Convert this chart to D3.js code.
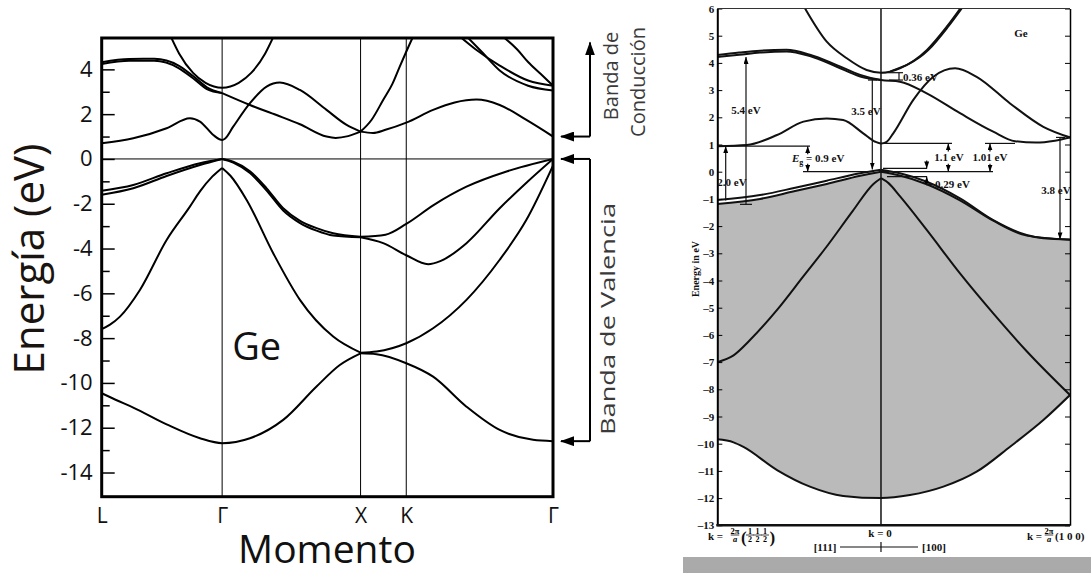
<!DOCTYPE html>
<html lang="es">
<head>
<meta charset="utf-8">
<title>Estructura de bandas del Ge</title>
<script src="https://cdn.jsdelivr.net/npm/d3@7"></script>
<style>
  body { margin: 0; background: #fff; }
  svg { display: block; }
  .sans { font-family: "Open Sans", "DejaVu Sans", sans-serif; }
  .serif { font-family: "Liberation Serif", "DejaVu Serif", serif; font-weight: bold; }
</style>
</head>
<body>
<script>
// ---------- left chart data (k in path units, E in eV) ----------
var kLabels = ["L", "Γ", "X", "K", "Γ"];
var kPoints = [0, 0.87, 1.87, 2.2, 3.26];
var eTicks = [4, 2, 0, -2, -4, -6, -8, -10, -12, -14];
var eMinor = [3, 1, -1, -3, -5, -7, -9, -11, -13];

// conduction bands
var condLowLX = [[0,0.70],[0.228,0.92],[0.469,1.37],[0.637,1.82],[0.71,1.67],[0.806,1.07],[0.85,0.88],[0.87,0.85],[0.89,0.9],[0.95,1.44],[1.071,2.49],[1.191,3.23],[1.287,3.41],[1.432,3.08],[1.624,2.19],[1.769,1.52],[1.87,1.22]];
var condSteepXK = [[1.87,1.22],[1.95,1.75],[2.033,2.63],[2.1,3.35],[2.153,4.12],[2.238,5.31],[2.26,5.6]];
var condGX = [[0.87,2.94],[1.071,2.41],[1.263,1.96],[1.432,1.55],[1.624,1.0],[1.69,0.94],[1.78,1.02],[1.87,1.22]];
var condXG = [[1.87,1.22],[1.96,1.16],[2.05,1.3],[2.2,1.62],[2.394,2.19],[2.55,2.52],[2.707,2.65],[2.875,2.41],[3.068,1.74],[3.26,1.0]];
var condParabola = [[0.50,5.45],[0.56,4.7],[0.66,3.84],[0.75,3.4],[0.87,3.18],[0.99,3.4],[1.08,3.84],[1.18,4.7],[1.24,5.45]];
var condLGa = [[0,4.32],[0.2,4.46],[0.38,4.47],[0.555,4.17],[0.66,3.7],[0.76,3.2],[0.87,2.94]];
var condLGb = [[0,4.24],[0.2,4.38],[0.38,4.38],[0.555,4.06],[0.66,3.6],[0.76,3.12],[0.87,2.94]];
var condKGa = [[2.59,5.45],[2.7,4.9],[2.875,4.17],[3.08,3.5],[3.26,3.27]];
var condKGb = [[2.64,5.45],[2.75,4.75],[2.875,3.95],[3.08,3.27],[3.26,3.06]];
var condKGc = [[2.9,5.45],[3.0,4.9],[3.08,4.33],[3.17,3.8],[3.26,3.27]];

// valence bands
var valHHa_LG = [[0,-1.42],[0.228,-1.16],[0.469,-0.64],[0.71,-0.19],[0.87,0]];
var valHHb_LG = [[0,-1.6],[0.228,-1.31],[0.469,-0.76],[0.71,-0.27],[0.87,0]];
var valHHa_GX = [[0.87,0],[0.95,-0.12],[1.071,-0.55],[1.19,-1.3],[1.311,-2.2],[1.43,-2.75],[1.552,-3.09],[1.672,-3.32],[1.87,-3.47]];
var valHHb_GX = [[0.87,0],[0.95,-0.16],[1.071,-0.63],[1.19,-1.4],[1.311,-2.3],[1.43,-2.85],[1.552,-3.2],[1.672,-3.42],[1.87,-3.5]];
var valUpXG = [[1.87,-3.47],[2.05,-3.38],[2.2,-2.9],[2.4,-2.05],[2.635,-1.24],[2.93,-0.55],[3.26,0]];
var valDipXG = [[1.87,-3.5],[2.033,-3.76],[2.2,-4.3],[2.358,-4.7],[2.45,-4.55],[2.635,-3.76],[2.875,-2.2],[3.07,-1.05],[3.26,0]];
var valLightLG = [[0,-7.6],[0.06,-7.4],[0.132,-7.04],[0.276,-5.85],[0.469,-3.62],[0.637,-2.13],[0.71,-1.45],[0.8,-0.78],[0.87,-0.4]];
var valLightGX = [[0.87,-0.4],[0.93,-0.75],[1.047,-1.83],[1.239,-4.21],[1.432,-6.29],[1.672,-7.93],[1.87,-8.65]];
var valLightXG = [[1.87,-8.65],[1.985,-8.6],[2.2,-8.23],[2.394,-7.56],[2.635,-6.29],[2.875,-4.5],[3.068,-2.72],[3.26,-0.3]];
var valLowLX = [[0,-10.46],[0.1,-10.75],[0.228,-11.1],[0.469,-11.85],[0.71,-12.47],[0.87,-12.69],[1.071,-12.47],[1.311,-11.65],[1.552,-10.16],[1.72,-9.2],[1.87,-8.68]];
var valLowXG = [[1.87,-8.68],[1.985,-8.72],[2.2,-9.12],[2.394,-9.72],[2.635,-11.06],[2.875,-12.1],[3.116,-12.54],[3.26,-12.6]];

var leftBands = [condLowLX, condSteepXK, condGX, condXG, condParabola, condLGa, condLGb, condKGa, condKGb, condKGc,
                 valHHa_LG, valHHb_LG, valHHa_GX, valHHb_GX, valUpXG, valDipXG, valLightLG, valLightGX, valLightXG, valLowLX, valLowXG];

// ---------- right chart data (k: L=-0.866, Γ=0, X=1) ----------
var rTicks = d3.range(-13, 7);
var rParabola = [[-0.41,6.1],[-0.287,4.78],[-0.181,4.17],[-0.076,3.74],[0,3.64],[0.1,3.8],[0.242,4.47],[0.348,5.33],[0.43,6.1]];
var rParabolaArm = [[0.05,3.69],[0.25,4.47],[0.355,5.33],[0.437,6.1]];
var rUpperA = [[-0.866,4.29],[-0.75,4.38],[-0.64,4.45],[-0.5,4.48],[-0.376,4.3],[-0.234,3.92],[-0.11,3.56],[0,3.37],[0.1,3.31],[0.242,2.88],[0.418,2.15],[0.594,1.47],[0.709,1.12],[0.82,1.07],[0.92,1.14],[1,1.26]];
var rUpperB = [[-0.866,4.22],[-0.75,4.3],[-0.64,4.38],[-0.5,4.42],[-0.376,4.25],[-0.234,3.86],[-0.11,3.5],[0,3.37]];
var rCond = [[-0.866,0.94],[-0.71,0.98],[-0.55,1.35],[-0.41,1.84],[-0.287,1.96],[-0.2,1.9],[-0.094,1.41],[-0.03,1.1],[0,1.04],[0.03,1.1],[0.065,1.41],[0.171,2.64],[0.277,3.49],[0.392,3.8],[0.506,3.49],[0.683,2.51],[0.859,1.65],[1,1.26]];
var rValA_L = [[-0.866,-1.04],[-0.64,-0.86],[-0.46,-0.6],[-0.287,-0.33],[-0.11,-0.06],[0,0.07]];
var rValA_R = [[0,0.07],[0.1,-0.06],[0.242,-0.37],[0.418,-0.98],[0.594,-1.78],[0.771,-2.33],[0.859,-2.45],[1,-2.49]];
var rValB_L = [[-0.866,-1.19],[-0.64,-1.0],[-0.46,-0.72],[-0.287,-0.45],[-0.11,-0.15],[0,0.0]];
var rValB_R = [[0,0.0],[0.1,-0.14],[0.242,-0.46],[0.418,-1.05],[0.594,-1.8],[0.771,-2.35],[1,-2.5]];
var rSplit_L = [[-0.866,-7.0],[-0.78,-6.75],[-0.693,-6.19],[-0.552,-5.1],[-0.411,-3.85],[-0.287,-2.75],[-0.15,-1.45],[-0.04,-0.45],[0,-0.24]];
var rSplit_R = [[0,-0.24],[0.04,-0.42],[0.1,-0.9],[0.242,-2.14],[0.418,-3.74],[0.594,-5.21],[0.771,-6.6],[1,-8.21]];
var rBottom = [[-0.866,-9.84],[-0.78,-9.95],[-0.73,-10.11],[-0.55,-10.97],[-0.376,-11.58],[-0.2,-11.92],[0,-12.0],[0.153,-11.89],[0.33,-11.58],[0.506,-11.03],[0.683,-10.11],[0.859,-9.13],[1,-8.21]];

var rightBands = [rParabola, rUpperA, rUpperB, rCond, rValA_L, rValA_R, rValB_L, rValB_R, rSplit_L, rSplit_R, rBottom];

var svg = d3.select("body").append("svg")
    .attr("width", 1091)
    .attr("height", 573);

var defs = svg.append("defs");
defs.append("marker").attr("id", "headBig")
    .attr("viewBox", "0 0 14 10").attr("refX", 13).attr("refY", 5)
    .attr("markerWidth", 14).attr("markerHeight", 10)
    .attr("markerUnits", "userSpaceOnUse").attr("orient", "auto")
  .append("path").attr("d", "M0,0L14,5L0,10z").attr("fill", "#000");
defs.append("marker").attr("id", "headSmall")
    .attr("viewBox", "0 0 7 5").attr("refX", 7).attr("refY", 2.5)
    .attr("markerWidth", 7).attr("markerHeight", 5)
    .attr("markerUnits", "userSpaceOnUse").attr("orient", "auto")
  .append("path").attr("d", "M0,0L7,2.5L0,5z").attr("fill", "#000");

// =============== LEFT CHART ===============
var xL = d3.scaleLinear().domain([0, 3.26]).range([101.7, 553]);
var yL = d3.scaleLinear().domain([-15.08, 5.4]).range([496.7, 38]);

defs.append("clipPath").attr("id", "clipL")
  .append("rect").attr("x", xL(0)).attr("y", yL(5.4))
    .attr("width", xL(3.26) - xL(0)).attr("height", yL(-15.08) - yL(5.4));

var gL = svg.append("g");

// symmetry lines and E = 0
gL.selectAll(".kline").data(kPoints.slice(1, 4)).enter().append("line")
    .attr("x1", d => xL(d)).attr("x2", d => xL(d))
    .attr("y1", yL(5.4)).attr("y2", yL(-15.08))
    .attr("stroke", "#000").attr("stroke-width", 1);
gL.append("line")
    .attr("x1", xL(0)).attr("x2", xL(3.26))
    .attr("y1", yL(0)).attr("y2", yL(0))
    .attr("stroke", "#000").attr("stroke-width", 1);

var lineL = d3.line().x(d => xL(d[0])).y(d => yL(d[1])).curve(d3.curveMonotoneX);
gL.append("g").attr("clip-path", "url(#clipL)")
  .selectAll("path").data(leftBands).enter().append("path")
    .attr("d", lineL)
    .attr("fill", "none").attr("stroke", "#000").attr("stroke-width", 2);

// y axis: labelled majors and short minors, ticks inside
var yAxisMajor = d3.axisLeft(yL).tickValues(eTicks).tickSizeInner(-13).tickSizeOuter(0).tickPadding(9)
    .tickFormat(d => d < 0 ? "-" + (-d) : "" + d);
var yAxisMinor = d3.axisLeft(yL).tickValues(eMinor).tickSizeInner(-8).tickSizeOuter(0).tickFormat("");
var gy = gL.append("g").attr("transform", "translate(" + xL(0) + ",0)").call(yAxisMajor);
gL.append("g").attr("transform", "translate(" + xL(0) + ",0)").call(yAxisMinor)
    .select(".domain").remove();
gy.select(".domain").remove();
gL.selectAll(".tick line").attr("stroke-width", 1.5);
gy.selectAll("text").attr("class", "sans").attr("font-size", 22).attr("fill", "#111");

var xAxisL = d3.axisBottom(xL).tickValues(kPoints).tickFormat((d, i) => kLabels[i]).tickSize(0).tickPadding(11);
var gx = gL.append("g").attr("transform", "translate(0," + yL(-15.08) + ")").call(xAxisL);
gx.select(".domain").remove();
gx.selectAll("text").attr("class", "sans").attr("font-size", 21).attr("fill", "#111");

// frame
gL.append("rect")
    .attr("x", xL(0)).attr("y", yL(5.4))
    .attr("width", xL(3.26) - xL(0)).attr("height", yL(-15.08) - yL(5.4))
    .attr("fill", "none").attr("stroke", "#000").attr("stroke-width", 3);

gL.append("text").attr("class", "sans")
    .attr("x", 256.7).attr("y", 360).attr("text-anchor", "middle")
    .attr("font-size", 38).attr("fill", "#111").text("Ge");
gL.append("text").attr("class", "sans")
    .attr("x", 327).attr("y", 563).attr("text-anchor", "middle")
    .attr("font-size", 39).attr("fill", "#111").text("Momento");
gL.append("text").attr("class", "sans")
    .attr("transform", "translate(44,259) rotate(-90)").attr("text-anchor", "middle")
    .attr("font-size", 42).attr("fill", "#1a1410").text("Energía (eV)");

// band brackets on the right
var bx = 590, tipX = 561;
gL.append("path")
    .attr("d", "M" + bx + "," + yL(1.0) + "V" + yL(5.2))
    .attr("stroke", "#000").attr("stroke-width", 2).attr("fill", "none")
    .attr("marker-end", "url(#headBig)");
[1.0, 0, -12.6].forEach(function(e) {
  gL.append("path")
      .attr("d", "M" + bx + "," + yL(e) + "H" + tipX)
      .attr("stroke", "#000").attr("stroke-width", 2).attr("fill", "none")
      .attr("marker-end", "url(#headBig)");
});
gL.append("path")
    .attr("d", "M" + bx + "," + yL(0) + "V" + yL(-12.6))
    .attr("stroke", "#000").attr("stroke-width", 2).attr("fill", "none");

gL.append("text").attr("class", "sans")
    .attr("transform", "translate(618,76) rotate(-90)").attr("text-anchor", "middle")
    .attr("font-size", 20).attr("fill", "#3a3a3a").text("Banda de");
gL.append("text").attr("class", "sans")
    .attr("transform", "translate(645,82) rotate(-90)").attr("text-anchor", "middle")
    .attr("font-size", 20).attr("fill", "#3a3a3a").text("Conducción");
gL.append("text").attr("class", "sans")
    .attr("transform", "translate(615,319) rotate(-90)").attr("text-anchor", "middle")
    .attr("textLength", 232).attr("lengthAdjust", "spacingAndGlyphs")
    .attr("font-size", 20).attr("fill", "#3a3a3a").text("Banda de Valencia");

// =============== RIGHT CHART ===============
var xR = d3.scaleLinear().domain([-0.866, 1]).range([717.3, 1070]);
var yR = d3.scaleLinear().domain([-13, 6]).range([525.3, 8.5]);
var gR = svg.append("g");

defs.append("clipPath").attr("id", "clipR")
  .append("rect").attr("x", xR(-0.866)).attr("y", yR(6))
    .attr("width", xR(1) - xR(-0.866)).attr("height", yR(-13) - yR(6));

// shaded valence region
var areaR = d3.area().x(d => xR(d[0])).y0(yR(-13)).y1(d => yR(d[1])).curve(d3.curveMonotoneX);
gR.append("path").datum(rValB_L).attr("d", areaR).attr("fill", "#bababa");
gR.append("path").datum(rValB_R).attr("d", areaR).attr("fill", "#bababa");
gR.append("path").datum(rBottom).attr("d", areaR).attr("fill", "#fff");

var lineR = d3.line().x(d => xR(d[0])).y(d => yR(d[1])).curve(d3.curveMonotoneX);
gR.append("g").attr("clip-path", "url(#clipR)")
  .selectAll("path").data(rightBands).enter().append("path")
    .attr("d", lineR)
    .attr("fill", "none").attr("stroke", "#111").attr("stroke-width", 2);
gR.append("path").datum(rParabolaArm).attr("clip-path", "url(#clipR)")
    .attr("d", lineR).attr("fill", "none").attr("stroke", "#111").attr("stroke-width", 2);

// k = 0 line
gR.append("line")
    .attr("x1", xR(0)).attr("x2", xR(0)).attr("y1", yR(6)).attr("y2", yR(-13))
    .attr("stroke", "#111").attr("stroke-width", 1.5);

// axes
var yAxisR = d3.axisLeft(yR).tickValues(rTicks).tickSizeInner(-5).tickSizeOuter(0).tickPadding(3)
    .tickFormat(d => d < 0 ? "–" + (-d) : d);
var gyR = gR.append("g").attr("transform", "translate(" + xR(-0.866) + ",0)").call(yAxisR);
gyR.select(".domain").attr("stroke-width", 2);
gyR.selectAll("text").attr("class", "serif").attr("font-size", 11).attr("fill", "#111");
var yAxisR2 = d3.axisRight(yR).tickValues(rTicks).tickSizeInner(-5).tickSizeOuter(0).tickFormat("");
gR.append("g").attr("transform", "translate(" + xR(1) + ",0)").call(yAxisR2)
    .select(".domain").attr("stroke-width", 1.5);
gR.append("line").attr("x1", xR(-0.866)).attr("x2", xR(1)).attr("y1", yR(6)).attr("y2", yR(6))
    .attr("stroke", "#333").attr("stroke-width", 1);
gR.append("line").attr("x1", xR(-0.866) - 1).attr("x2", xR(1)).attr("y1", yR(-13)).attr("y2", yR(-13))
    .attr("stroke", "#111").attr("stroke-width", 2.5);

gR.append("text").attr("class", "serif")
    .attr("transform", "translate(699,269) rotate(-90)").attr("text-anchor", "middle")
    .attr("font-size", 10).attr("fill", "#111").text("Energy in eV");
gR.append("text").attr("class", "serif")
    .attr("x", 1021).attr("y", 37).attr("text-anchor", "middle")
    .attr("font-size", 11).attr("fill", "#111").text("Ge");

// gap annotations
function seg(x1, y1, x2, y2, head) {
  var p = gR.append("path").attr("d", "M" + x1 + "," + y1 + "L" + x2 + "," + y2)
      .attr("stroke", "#111").attr("stroke-width", 1.2).attr("fill", "none");
  if (head) p.attr("marker-end", "url(#headSmall)");
}
function label(x, y, txt, anchor) {
  return gR.append("text").attr("class", "serif")
      .attr("x", x).attr("y", y).attr("text-anchor", anchor || "middle")
      .attr("font-size", 11).attr("fill", "#111").text(txt);
}

// 5.4 eV
seg(746, yR(-1.2), 746, yR(4.22), true);
seg(740, yR(-1.2), 752, yR(-1.2));
label(746, 114, "5.4 eV");
// 2.0 eV
seg(725.7, yR(-1.06), 725.7, yR(0.94), true);
label(732, 186, "2.0 eV");
// Eg = 0.9 eV
seg(xR(-0.866), yR(0.94), 810, yR(0.94));
seg(803, yR(0), xR(0) - 7, yR(0));
seg(807.7, yR(0.94) + 8, 807.7, yR(0.94), true);
seg(807.7, yR(0) - 8, 807.7, yR(0), true);
var eg = label(792, 162, "", "start");
eg.append("tspan").attr("font-style", "italic").text("E");
eg.append("tspan").attr("font-size", 8).attr("dy", 3).text("g");
eg.append("tspan").attr("dy", -3).text(" = 0.9 eV");
// 3.5 eV
seg(872.3, yR(3.37), 872.3, yR(0.08), true);
seg(868, yR(3.37), 877, yR(3.37));
label(866, 115, "3.5 eV");
// 0.36 eV
seg(xR(0), yR(3.64), 903, yR(3.64));
seg(xR(0) + 8, yR(3.37), 903, yR(3.37));
seg(899, yR(3.64), 899, yR(3.37));
label(903, 81, "0.36 eV", "start");
// 1.1 eV and 1.01 eV
seg(xR(0) + 2, yR(1.04), 952, yR(1.04));
seg(xR(0) + 2, yR(0), 993, yR(0));
seg(985, yR(1.04), 1015, yR(1.04));
[948.3, 990].forEach(function(x) {
  seg(x, yR(1.04) + 8, x, yR(1.04), true);
  seg(x, yR(0) - 8, x, yR(0), true);
});
label(949, 161, "1.1 eV");
label(990, 161, "1.01 eV");
// 0.29 eV
seg(xR(0) + 2, yR(0.12), 927, yR(0.12));
seg(xR(0) + 6, yR(-0.18), 927, yR(-0.18));
seg(926.7, yR(0.12) - 8, 926.7, yR(0.12), true);
gR.append("path").attr("d", "M933," + (yR(-0.18) + 8) + "H926.7V" + yR(-0.18))
    .attr("stroke", "#111").attr("stroke-width", 1.2).attr("fill", "none")
    .attr("marker-end", "url(#headSmall)");
label(935, 188, "0.29 eV", "start");
// 3.8 eV
seg(1060, yR(1.26), 1060, yR(-2.49), true);
seg(1056, yR(1.26), 1065, yR(1.26));
label(1056, 194, "3.8 eV");

// bottom k labels
function frac(x, yBar, num, den, size) {
  gR.append("text").attr("class", "serif").attr("x", x).attr("y", yBar - 1.5)
      .attr("text-anchor", "middle").attr("font-size", size).text(num);
  gR.append("line").attr("x1", x - size * 0.5).attr("x2", x + size * 0.5)
      .attr("y1", yBar).attr("y2", yBar).attr("stroke", "#111").attr("stroke-width", 0.8);
  gR.append("text").attr("class", "serif").attr("x", x).attr("y", yBar + size * 0.85)
      .attr("text-anchor", "middle").attr("font-size", size).attr("font-style", den === "a" ? "italic" : null).text(den);
}
label(708, 540, "k =", "start");
frac(735, 535, "2π", "a", 8.5);
label(741, 543, "(", "start").attr("font-size", 17);
frac(750, 535, "1", "2", 8);
frac(757.5, 535, "1", "2", 8);
frac(765, 535, "1", "2", 8);
label(769.5, 543, ")", "start").attr("font-size", 17);
label(880, 537, "k = 0");
label(1027, 540, "k =", "start");
frac(1049, 535, "2π", "a", 8.5);
label(1055, 540, "(1 0 0)", "start");
label(825, 551, "[111]");
label(934, 551, "[100]");
seg(840, 547, 918, 547);
seg(xR(0), 542, xR(0), 552);

// cut-off caption strip
svg.append("rect").attr("x", 683).attr("y", 557).attr("width", 408).attr("height", 16).attr("fill", "#aaaaaa");
</script>
</body>
</html>
